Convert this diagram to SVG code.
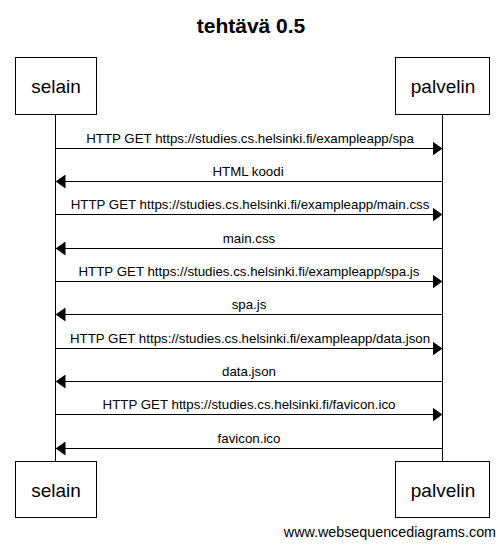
<svg xmlns="http://www.w3.org/2000/svg" width="504" height="552" viewBox="0 0 504 552">
<style>
  text { font-family: "Liberation Sans", Arial, sans-serif; fill: #000; }
  .title { font-size: 21px; font-weight: bold; text-anchor: middle; }
  .actor rect { fill: #fff; stroke: #000; stroke-width: 1; }
  .actor text { font-size: 19px; text-anchor: middle; }
  .life { stroke: #000; stroke-width: 1; }
  .msg line { stroke: #000; stroke-width: 1; }
  .msg text { font-size: 13.3px; text-anchor: middle; }
  .foot { font-size: 14.3px; text-anchor: end; }
</style>
<defs>
  <marker id="ah" viewBox="0 0 10 14" refX="10" refY="7" markerWidth="10" markerHeight="14" markerUnits="userSpaceOnUse" orient="auto">
    <polygon points="0,0 10,7 0,14" fill="#000"/>
  </marker>
</defs>
<rect width="504" height="552" fill="#fff"/>
<text class="title" x="251" y="33">tehtävä 0.5</text>

<g id="lifelines">
  <line class="life" x1="55.5" y1="115" x2="55.5" y2="461"/>
  <line class="life" x1="442.5" y1="115" x2="442.5" y2="461"/>
</g>

<g id="selain-top" class="actor">
  <rect x="15.5" y="57.5" width="81" height="57"/>
  <text x="56" y="93">selain</text>
</g>
<g id="palvelin-top" class="actor">
  <rect x="395.5" y="57.5" width="94" height="57"/>
  <text x="443" y="93">palvelin</text>
</g>
<g id="selain-bottom" class="actor">
  <rect x="15.5" y="461.5" width="81" height="56"/>
  <text x="56" y="497">selain</text>
</g>
<g id="palvelin-bottom" class="actor">
  <rect x="395.5" y="461.5" width="94" height="56"/>
  <text x="443" y="497">palvelin</text>
</g>

<g id="connectors" class="msg">
  <line x1="55.5" y1="148.5" x2="442.5" y2="148.5" marker-end="url(#ah)"/>
  <text x="250" y="142.5">HTTP GET https://studies.cs.helsinki.fi/exampleapp/spa</text>
  <line x1="442.5" y1="181.5" x2="55.5" y2="181.5" marker-end="url(#ah)"/>
  <text x="248" y="175.5">HTML koodi</text>
  <line x1="55.5" y1="214.5" x2="442.5" y2="214.5" marker-end="url(#ah)"/>
  <text x="250" y="208.5">HTTP GET https://studies.cs.helsinki.fi/exampleapp/main.css</text>
  <line x1="442.5" y1="248.5" x2="55.5" y2="248.5" marker-end="url(#ah)"/>
  <text x="249" y="242.5">main.css</text>
  <line x1="55.5" y1="281.5" x2="442.5" y2="281.5" marker-end="url(#ah)"/>
  <text x="249" y="275.5">HTTP GET https://studies.cs.helsinki.fi/exampleapp/spa.js</text>
  <line x1="442.5" y1="314.5" x2="55.5" y2="314.5" marker-end="url(#ah)"/>
  <text x="249" y="308.5">spa.js</text>
  <line x1="55.5" y1="348.5" x2="442.5" y2="348.5" marker-end="url(#ah)"/>
  <text x="250" y="342.5">HTTP GET https://studies.cs.helsinki.fi/exampleapp/data.json</text>
  <line x1="442.5" y1="381.5" x2="55.5" y2="381.5" marker-end="url(#ah)"/>
  <text x="249" y="375.5">data.json</text>
  <line x1="55.5" y1="414.5" x2="442.5" y2="414.5" marker-end="url(#ah)"/>
  <text x="249" y="408.5">HTTP GET https://studies.cs.helsinki.fi/favicon.ico</text>
  <line x1="442.5" y1="448.5" x2="55.5" y2="448.5" marker-end="url(#ah)"/>
  <text x="249" y="442.5">favicon.ico</text>
</g>

<text class="foot" x="496" y="537">www.websequencediagrams.com</text>
</svg>
